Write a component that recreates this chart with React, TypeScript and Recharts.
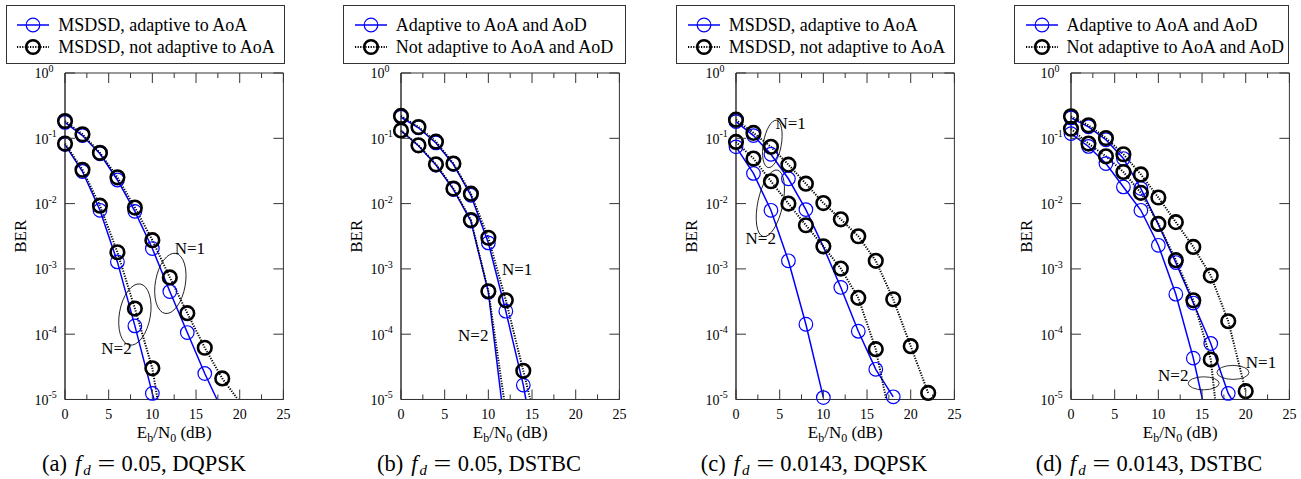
import React from "react";
import { ComposedChart, Line, XAxis, YAxis, ReferenceDot, ReferenceArea } from "recharts";

// Eb/N0 grid of the simulated points (dB)
const EBN0 = [0, 2, 4, 6, 8, 10, 12, 14, 16, 18, 20, 22];
const X_TICKS = [0, 2.5, 5, 7.5, 10, 12.5, 15, 17.5, 20, 22.5, 25];
const Y_TICKS = [1, 1e-1, 1e-2, 1e-3, 1e-4, 1e-5];
const Y_MIN = 1e-5;

// (a) fd = 0.05, DQPSK
const A_ADAPT_N1 = [0.175, 0.11, 0.058, 0.023, 0.0076, 0.00205, 0.00045, 0.000106, 0.000025, null, null, null];
const A_FIXED_N1 = [0.184, 0.115, 0.06, 0.0253, 0.0087, 0.00275, 0.00074, 0.00021, 0.000062, 0.000021, null, null];
const A_ADAPT_N2 = [0.08, 0.031, 0.0079, 0.00128, 0.000134, 0.0000124, null, null, null, null, null, null];
const A_FIXED_N2 = [0.083, 0.033, 0.0093, 0.0018, 0.000247, 0.00003, null, null, null, null, null, null];
// Eb/N0 where each curve runs out of the bottom of the plot (null = ends at last point)
const A_ENDS = [17.4, 19.8, 10.2, 10.6];

// (b) fd = 0.05, DSTBC
const B_ADAPT_N1 = [0.21, 0.145, 0.085, 0.04, 0.0134, 0.0025, 0.000225, 0.0000166, null, null, null, null];
const B_FIXED_N1 = [0.22, 0.149, 0.089, 0.041, 0.0142, 0.003, 0.00033, 0.0000275, null, null, null, null];
const B_ADAPT_N2 = [0.13, 0.077, 0.039, 0.0165, 0.0054, 0.00044, null, null, null, null, null, null];
const B_FIXED_N2 = [0.132, 0.078, 0.04, 0.017, 0.0056, 0.000455, null, null, null, null, null, null];
const B_ENDS = [14.3, 14.8, 11.5, 11.8];

// (c) fd = 0.0143, DQPSK
const C_ADAPT_N1 = [0.18, 0.11, 0.057, 0.024, 0.0081, 0.00217, 0.00052, 0.000111, 0.000029, 0.000011, null, null];
const C_FIXED_N1 = [0.193, 0.121, 0.074, 0.0395, 0.0202, 0.0102, 0.00575, 0.00316, 0.00133, 0.000343, 0.0000655, 0.0000126];
const C_ADAPT_N2 = [0.074, 0.029, 0.0079, 0.00133, 0.000142, 0.0000107, null, null, null, null, null, null];
const C_FIXED_N2 = [0.088, 0.049, 0.022, 0.01, 0.00466, 0.00222, 0.00101, 0.00036, 0.000059, null, null, null];
const C_ENDS = [null, null, null, 17.2];

// (d) fd = 0.0143, DSTBC
const D_ADAPT_N1 = [0.205, 0.15, 0.095, 0.049, 0.017, 0.0048, 0.00125, 0.0003, 0.000072, 0.0000124, null, null];
const D_FIXED_N1 = [0.217, 0.158, 0.101, 0.057, 0.028, 0.0124, 0.0052, 0.00217, 0.00079, 0.000158, 0.0000134, null];
const D_ADAPT_N2 = [0.118, 0.075, 0.041, 0.018, 0.0079, 0.0023, 0.00041, 0.000043, null, null, null, null];
const D_FIXED_N2 = [0.14, 0.083, 0.053, 0.0305, 0.0146, 0.0049, 0.00136, 0.00033, 0.000041, null, null, null];
const D_ENDS = [18.4, null, 15.05, 16.5];

const LEGEND_AOA = ["MSDSD, adaptive to AoA", "MSDSD, not adaptive to AoA"];
const LEGEND_AOD = ["Adaptive to AoA and AoD", "Not adaptive to AoA and AoD"];

const BLUE = "#0000ff";
const FONT = "Liberation Serif, Tinos, Times New Roman, DejaVu Serif, serif";

// plot geometry
const PLOT_TOP = 73;
const PLOT_H = 326.5;
const PLOT_W = 218.4;
const Y_AXIS_W = 60;
const CHART_W = Y_AXIS_W + PLOT_W + 20;
const CHART_H = 479;

type Note = { x: number; y: number; text?: string; rx?: number; ry?: number; rot?: number };

type Panel = {
  plotLeft: number;
  legendLeft: number;
  legendWidth: number;
  legend: string[];
  captionCenter: number;
  tag: string;
  fd: string;
  scheme: string;
  series: (number | null)[][];
  ends: (number | null)[];
  notes: Note[];
};

const PANELS: Panel[] = [
  {
    plotLeft: 65.3, legendLeft: 5.7, legendWidth: 279.5, legend: LEGEND_AOA,
    captionCenter: 144, tag: "(a)", fd: "0.05", scheme: "DQPSK",
    series: [A_ADAPT_N1, A_FIXED_N1, A_ADAPT_N2, A_FIXED_N2], ends: A_ENDS,
    notes: [
      { x: 12.06, y: 6e-4, rx: 15, ry: 30.5, rot: 10 },
      { x: 8.0, y: 2.0e-4, rx: 15.5, ry: 31, rot: 10 },
      { x: 14.3, y: 2.07e-3, text: "N=1" },
      { x: 5.9, y: 6.1e-5, text: "N=2" },
    ],
  },
  {
    plotLeft: 400.7, legendLeft: 343.3, legendWidth: 282.7, legend: LEGEND_AOD,
    captionCenter: 479, tag: "(b)", fd: "0.05", scheme: "DSTBC",
    series: [B_ADAPT_N1, B_FIXED_N1, B_ADAPT_N2, B_FIXED_N2], ends: B_ENDS,
    notes: [
      { x: 13.3, y: 9.9e-4, text: "N=1" },
      { x: 8.27, y: 9.6e-5, text: "N=2" },
    ],
  },
  {
    plotLeft: 736, legendLeft: 676.3, legendWidth: 279, legend: LEGEND_AOA,
    captionCenter: 814, tag: "(c)", fd: "0.0143", scheme: "DQPSK",
    series: [C_ADAPT_N1, C_FIXED_N1, C_ADAPT_N2, C_FIXED_N2], ends: C_ENDS,
    notes: [
      { x: 4.16, y: 0.082, rx: 9, ry: 24, rot: 10 },
      { x: 3.93, y: 0.0101, rx: 12.5, ry: 34, rot: 12 },
      { x: 6.26, y: 0.171, text: "N=1" },
      { x: 2.83, y: 3.0e-3, text: "N=2" },
    ],
  },
  {
    plotLeft: 1071, legendLeft: 1014, legendWidth: 275, legend: LEGEND_AOD,
    captionCenter: 1149, tag: "(d)", fd: "0.0143", scheme: "DSTBC",
    series: [D_ADAPT_N1, D_FIXED_N1, D_ADAPT_N2, D_FIXED_N2], ends: D_ENDS,
    notes: [
      { x: 15.19, y: 1.77e-5, rx: 15.5, ry: 6.5, rot: 0 },
      { x: 18.54, y: 2.6e-5, rx: 16, ry: 7, rot: 0 },
      { x: 11.71, y: 2.35e-5, text: "N=2" },
      { x: 21.75, y: 3.75e-5, text: "N=1" },
    ],
  },
];

const KEYS = ["a1", "f1", "a2", "f2"];

function buildRows(series: (number | null)[][], ends: (number | null)[]) {
  const xs = new Set<number>(EBN0);
  ends.forEach((e) => e != null && xs.add(e));
  return [...xs].sort((p, q) => p - q).map((x) => {
    const row: Record<string, number> = { x };
    const i = EBN0.indexOf(x);
    series.forEach((vals, k) => {
      const v = i >= 0 ? vals[i] : null;
      if (v != null) {
        row[KEYS[k]] = v;
        row[KEYS[k] + "L"] = v;
      }
      if (ends[k] === x) row[KEYS[k] + "L"] = Y_MIN;
    });
    return row;
  });
}

const XTick = (props: any) => {
  const { x, y, payload } = props;
  const v = payload.value;
  const major = v % 5 === 0;
  const len = major ? 10 : 5;
  const top = y - PLOT_H;
  return (
    <g>
      <line x1={x} x2={x} y1={y} y2={y - len} stroke="#333" strokeWidth={1} />
      <line x1={x} x2={x} y1={top} y2={top + len} stroke="#333" strokeWidth={1} />
      {major && (
        <text x={x} y={y + 20} textAnchor="middle" fontSize={14} fontFamily={FONT} fill="#000">
          {v}
        </text>
      )}
    </g>
  );
};

const YTick = (props: any) => {
  const { x, y, payload } = props;
  const exp = Math.round(Math.log10(payload.value));
  return (
    <g>
      <line x1={x} x2={x + 10} y1={y} y2={y} stroke="#333" strokeWidth={1} />
      <line x1={x + PLOT_W} x2={x + PLOT_W - 10} y1={y} y2={y} stroke="#333" strokeWidth={1} />
      <text x={x - 30.5} y={y + 5.5} fontSize={14} fontFamily={FONT} fill="#000">
        10
        <tspan dy={-6.5} fontSize={10}>
          {exp}
        </tspan>
      </text>
    </g>
  );
};

const XLabel = (props: any) => {
  const { viewBox } = props;
  const cx = viewBox.x + viewBox.width / 2;
  return (
    <text x={cx} y={viewBox.y + 39} textAnchor="middle" fontSize={17} fontFamily={FONT} fill="#000">
      E<tspan dy={4} fontSize={12}>b</tspan>
      <tspan dy={-4}>/N</tspan>
      <tspan dy={4} fontSize={12}>0</tspan>
      <tspan dy={-4}> (dB)</tspan>
    </text>
  );
};

const YLabel = (props: any) => {
  const { viewBox } = props;
  const bx = viewBox.x + viewBox.width - 38.6;
  const cy = viewBox.y + viewBox.height / 2;
  return (
    <text x={bx} y={cy} textAnchor="middle" fontSize={17} fontFamily={FONT} fill="#000" transform={`rotate(-90, ${bx}, ${cy})`}>
      BER
    </text>
  );
};

const noteShape = (n: Note) => (p: any) => {
  if (n.text) {
    return (
      <text x={p.cx} y={p.cy + 6} textAnchor="middle" fontSize={17} fontFamily={FONT} fill="#000">
        {n.text}
      </text>
    );
  }
  return (
    <ellipse cx={p.cx} cy={p.cy} rx={n.rx} ry={n.ry} fill="none" stroke="#000" strokeWidth={0.8}
      transform={`rotate(${n.rot ?? 0}, ${p.cx}, ${p.cy})`} />
  );
};

const blueDot = { r: 6.8, stroke: BLUE, strokeWidth: 1.2, fill: "none" };
const blackDot = { r: 6.8, stroke: "#000", strokeWidth: 2.6, fill: "none" };

function LegendIcon({ adaptive }: { adaptive: boolean }) {
  return (
    <svg width={36} height={20} style={{ display: "block" }}>
      <line x1={2} x2={34} y1={10} y2={10} stroke={adaptive ? BLUE : "#000"} strokeWidth={adaptive ? 1.5 : 2}
        strokeDasharray={adaptive ? undefined : "1.2 1.4"} />
      <circle cx={18} cy={10} r={6.8} fill="none" stroke={adaptive ? BLUE : "#000"} strokeWidth={adaptive ? 1.2 : 2.6} />
    </svg>
  );
}

function PanelView({ panel }: { panel: Panel }) {
  const rows = buildRows(panel.series, panel.ends);
  return (
    <>
      <div style={{ position: "absolute", left: panel.plotLeft - Y_AXIS_W, top: 0 }}>
        <ComposedChart width={CHART_W} height={CHART_H} data={rows}
          margin={{ top: PLOT_TOP, right: CHART_W - Y_AXIS_W - PLOT_W, bottom: 0, left: 0 }}>
          <XAxis dataKey="x" type="number" domain={[0, 25]} ticks={X_TICKS} interval={0} height={CHART_H - PLOT_TOP - PLOT_H}
            tickSize={0} tickMargin={0} tickLine={false} axisLine={{ stroke: "#333" }} tick={<XTick />} label={<XLabel />} />
          <YAxis type="number" scale="log" domain={[Y_MIN, 1]} ticks={Y_TICKS} interval={0} width={Y_AXIS_W}
            tickSize={0} tickMargin={0} tickLine={false} axisLine={{ stroke: "#333" }} tick={<YTick />} label={<YLabel />} />
          <ReferenceArea x1={0} x2={25} y1={Y_MIN} y2={1} fill="none" stroke="#333" strokeWidth={1} />
          {panel.notes.map((n, i) => (
            <ReferenceDot key={i} x={n.x} y={n.y} r={0} shape={noteShape(n)} />
          ))}
          <Line dataKey="a1L" stroke={BLUE} strokeWidth={1.5} dot={false} connectNulls isAnimationActive={false} />
          <Line dataKey="a2L" stroke={BLUE} strokeWidth={1.5} dot={false} connectNulls isAnimationActive={false} />
          <Line dataKey="a1" stroke="none" dot={blueDot} connectNulls isAnimationActive={false} />
          <Line dataKey="a2" stroke="none" dot={blueDot} connectNulls isAnimationActive={false} />
          <Line dataKey="f1L" stroke="#000" strokeWidth={2} strokeDasharray="1.2 1.4" dot={false} connectNulls isAnimationActive={false} />
          <Line dataKey="f2L" stroke="#000" strokeWidth={2} strokeDasharray="1.2 1.4" dot={false} connectNulls isAnimationActive={false} />
          <Line dataKey="f1" stroke="none" dot={blackDot} connectNulls isAnimationActive={false} />
          <Line dataKey="f2" stroke="none" dot={blackDot} connectNulls isAnimationActive={false} />
        </ComposedChart>
      </div>
      <div style={{
        position: "absolute", left: panel.legendLeft, top: 5, width: panel.legendWidth, height: 59,
        border: "1px solid #333", boxSizing: "border-box", background: "#fff", fontFamily: FONT, fontSize: 18,
      }}>
        {panel.legend.map((t, i) => (
          <div key={t} style={{ position: "absolute", left: 8.5, top: i === 0 ? 8 : 30, display: "flex", alignItems: "center", height: 22 }}>
            <LegendIcon adaptive={i === 0} />
            <span style={{ marginLeft: 7, whiteSpace: "nowrap", lineHeight: "22px" }}>{t}</span>
          </div>
        ))}
      </div>
      <div style={{
        position: "absolute", left: panel.captionCenter - 150, width: 300, top: 451, textAlign: "center",
        fontFamily: FONT, fontSize: 22.5, lineHeight: "26px", whiteSpace: "nowrap",
      }}>
        {panel.tag}
        <span style={{ marginLeft: 8 }}>
          <i style={{ marginRight: 2 }}>f</i>
          <sub style={{ fontSize: 15, verticalAlign: "-4px", lineHeight: 0 }}><i>d</i></sub>
        </span>
        <span style={{ margin: "0 9px", display: "inline-block", transform: "scaleX(1.4)" }}>=</span>
        {panel.fd}, {panel.scheme}
      </div>
    </>
  );
}

export default function App() {
  return (
    <div style={{ position: "absolute", left: 0, top: 0, width: 1301, height: 479, background: "#fff", overflow: "hidden" }}>
      {PANELS.map((p) => (
        <PanelView key={p.tag} panel={p} />
      ))}
    </div>
  );
}
